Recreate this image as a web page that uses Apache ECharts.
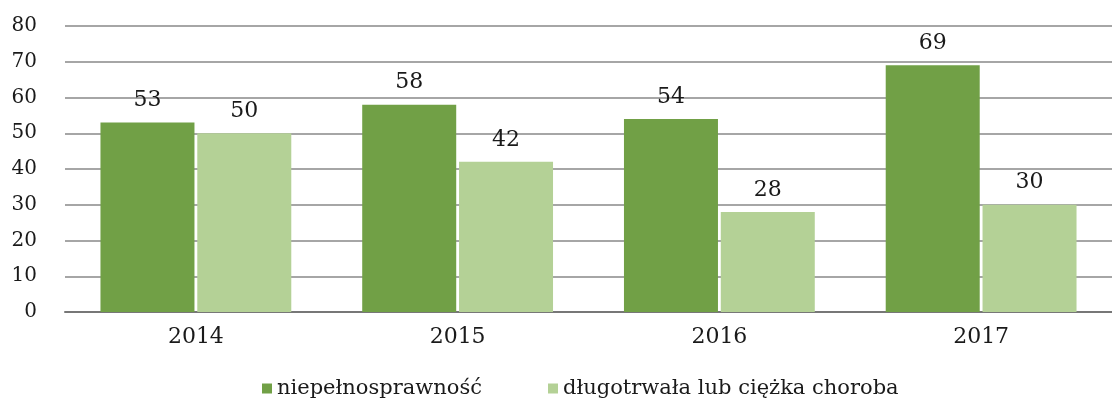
<!DOCTYPE html>
<html>
<head>
<meta charset="utf-8">
<script src="https://cdn.jsdelivr.net/npm/echarts@6/dist/echarts.min.js"></script>
<style>
    html, body { margin: 0; padding: 0; background: #fff; }
    #chart { width: 1112px; height: 409px; }
</style>
</head>
<body>
<div id="chart"></div>
<script>
// dane
const years = ["2014", "2015", "2016", "2017"];
const niepelnosprawnosc = [53, 58, 54, 69];
const choroba = [50, 42, 28, 30];
const seriesNames = ["niepełnosprawność", "długotrwała lub ciężka choroba"];

const font = "DejaVu Serif";
const textColor = "#1a1a1a";
const chart = echarts.init(document.getElementById("chart"));

chart.setOption({
    animation: false,
    textStyle: { fontFamily: font },
    legend: {
        data: seriesNames,
        icon: "rect",
        bottom: 5,
        left: 257,
        itemWidth: 10,
        itemHeight: 10,
        itemGap: 66,
        textStyle: { fontFamily: font, fontSize: 21, color: textColor },
    },
    grid: { left: 65, right: -8, top: 26, bottom: 97 },
    xAxis: {
        type: "category",
        data: years,
        axisTick: { show: false },
        axisLine: { lineStyle: { color: "#777", width: 2 } },
        axisLabel: { color: textColor, fontSize: 22, margin: 14, fontFamily: font },
    },
    yAxis: {
        type: "value",
        min: 0,
        max: 80,
        interval: 10,
        axisLine: { show: false },
        axisTick: { show: false },
        axisLabel: { color: textColor, fontSize: 20, margin: 28, fontFamily: font },
        splitLine: { lineStyle: { color: "#888", width: 1.5 } },
    },
    series: [
        {
            name: seriesNames[0],
            type: "bar",
            data: niepelnosprawnosc,
            barWidth: 94,
            barGap: "3%",
            itemStyle: { color: "#71a046" },
            label: { show: true, position: "top", distance: 11, color: textColor, fontSize: 22, fontFamily: font },
        },
        {
            name: seriesNames[1],
            type: "bar",
            data: choroba,
            barWidth: 94,
            itemStyle: { color: "#b4d196" },
            label: { show: true, position: "top", distance: 11, color: textColor, fontSize: 22, fontFamily: font },
        },
    ],
});
</script>
</body>
</html>
